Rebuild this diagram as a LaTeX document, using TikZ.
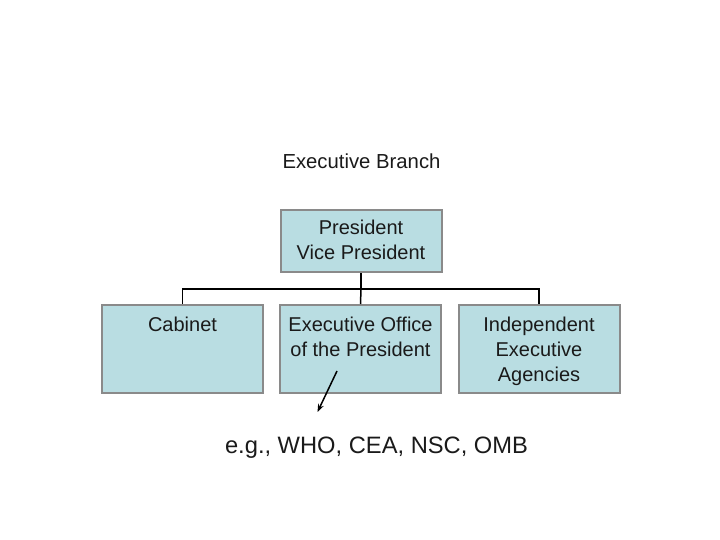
\documentclass[tikz,border=0pt]{standalone}
\usepackage{fontspec}
\setmainfont{Liberation Sans}
\usetikzlibrary{arrows.meta}
\definecolor{boxfill}{HTML}{B9DDE2}
\definecolor{boxline}{HTML}{8A8A8A}
\definecolor{txt}{HTML}{1A1A1A}
\begin{document}
\begin{tikzpicture}[x=1pt,y=-1pt,
  orgbox/.style={draw=boxline,fill=boxfill,line width=2pt,inner sep=0pt,rectangle},
  boxtext/.style={anchor=north,align=center,inner sep=0pt,text=txt,font=\fontsize{20}{25}\selectfont},
  conn/.style={draw=black,line width=1.5pt}]
\useasboundingbox (0,0) rectangle (720,540);
\node[anchor=base,inner sep=0pt,text=txt,font=\fontsize{20.3}{24}\selectfont] (title) at (361.5,169) {Executive Branch};
\node[orgbox,minimum width=161pt,minimum height=62pt] (pres) at (361,241) {};
\node[orgbox,minimum width=161pt,minimum height=88pt] (cab) at (182.5,349) {};
\node[orgbox,minimum width=161pt,minimum height=88pt] (eop) at (360.5,349) {};
\node[orgbox,minimum width=161pt,minimum height=88pt] (iea) at (539,349) {};
\node[boxtext] (prest) at ([yshift=-11pt]pres.north) {President\\Vice President};
\node[boxtext] (cabt) at ([yshift=-12.5pt]cab.north) {Cabinet};
\node[boxtext] (eopt) at ([yshift=-12.5pt]eop.north) {Executive Office\\of the President};
\node[boxtext] (ieat) at ([yshift=-12.5pt]iea.north) {Independent\\Executive\\Agencies};
\coordinate (bar) at (361,289);
\draw[conn] (pres.south) -- (bar);
\draw[conn] (bar) -- (eop.north);
\draw[conn] (cab.north) |- (bar) -| (iea.north);
\coordinate (arrs) at (337,371);
\node[anchor=base,inner sep=0pt,text=txt,font=\fontsize{23.7}{28}\selectfont] (eg) at (376.5,453) {e.g., WHO, CEA, NSC, OMB};
\coordinate (arre) at (317.5,412);
\draw[line width=1.5pt,-{Stealth[length=8pt,width=6pt]}] (arrs) -- (arre);
\end{tikzpicture}
\end{document}
